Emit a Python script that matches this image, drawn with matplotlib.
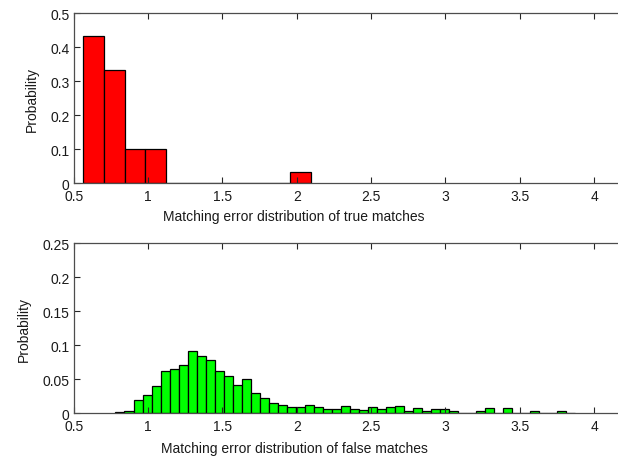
import numpy as np
import matplotlib
matplotlib.use('Agg')
from matplotlib import pyplot as plt
from matplotlib.ticker import FuncFormatter

# histogram of matching error for true matches (bin edges + probability)
true_lo = 0.564
true_width = 0.139
true_prob = [0.433, 0.333, 0.1, 0.1, 0, 0, 0, 0, 0, 0, 0.033]

# histogram of matching error for false matches
false_lo = 0.781
false_width = 0.0606
false_prob = [0.0015, 0.004, 0.0196, 0.0265, 0.0407, 0.0618, 0.0657, 0.0706, 0.0917, 0.0848,
              0.078, 0.0618, 0.0549, 0.042, 0.051, 0.030, 0.0225, 0.0152, 0.0118, 0.0098,
              0.0098, 0.0118, 0.0098, 0.006, 0.006, 0.0105, 0.006, 0.0045, 0.009, 0.006,
              0.009, 0.0105, 0.0035, 0.0075, 0.0035, 0.006, 0.006, 0.004, 0.001, 0.001,
              0.004, 0.0085, 0.001, 0.008, 0.001, 0, 0.004, 0.001, 0, 0.004, 0.001]

x_ticks = [0.5, 1, 1.5, 2, 2.5, 3, 3.5, 4]
top_yticks = [0, 0.1, 0.2, 0.3, 0.4, 0.5]
bot_yticks = [0, 0.05, 0.1, 0.15, 0.2, 0.25]

plt.rcParams['font.family'] = 'Liberation Sans'
plt.rcParams['font.size'] = 10

fig = plt.figure(figsize=(6.18, 4.6), dpi=100)
W, H = 618.0, 460.0
ax_left = 73.7 / W
ax_w = 4 * 148.7 / W   # axes runs past the right edge (cropped like the original)

ax1 = fig.add_axes([ax_left, 1 - 184 / H, ax_w, 170 / H])
ax2 = fig.add_axes([ax_left, 1 - 414.3 / H, ax_w, 170 / H])

fmt = FuncFormatter(lambda v, p: '%g' % v)


def style(ax, yticks, xlabel, label_y):
    ax.set_xlim(0.5, 4.5)
    ax.set_ylim(yticks[0], yticks[-1])
    ax.set_xticks(x_ticks)
    ax.set_yticks(yticks)
    ax.xaxis.set_major_formatter(fmt)
    ax.yaxis.set_major_formatter(fmt)
    ax.tick_params(direction='in', top=True, right=True, length=4, width=0.8,
                   color='0.15', labelcolor='0.1')
    ax.tick_params(axis='x', pad=4)
    ax.tick_params(axis='y', pad=3)
    for s in ax.spines.values():
        s.set_color('0.3')
        s.set_linewidth(0.9)
    ax.set_xlabel(xlabel, color='0.1')
    ax.set_ylabel('Probability', color='0.1', labelpad=8)
    # label sits under the visible part of the axis, as in the original
    ax.xaxis.set_label_coords((294 - 73.7) / (4 * 148.7), label_y, transform=ax.transAxes)
    ax.xaxis.label.set_va('top')


n1 = len(true_prob)
ax1.bar(true_lo + true_width * np.arange(n1), true_prob, width=true_width, align='edge',
        color=(1, 0, 0), edgecolor='black', linewidth=0.9)
style(ax1, top_yticks, 'Matching error distribution of true matches', -0.15)

n2 = len(false_prob)
ax2.bar(false_lo + false_width * np.arange(n2), false_prob, width=false_width, align='edge',
        color=(0, 1, 0), edgecolor='black', linewidth=0.9)
style(ax2, bot_yticks, 'Matching error distribution of false matches', -0.165)

fig.savefig('out.png', dpi=100)
